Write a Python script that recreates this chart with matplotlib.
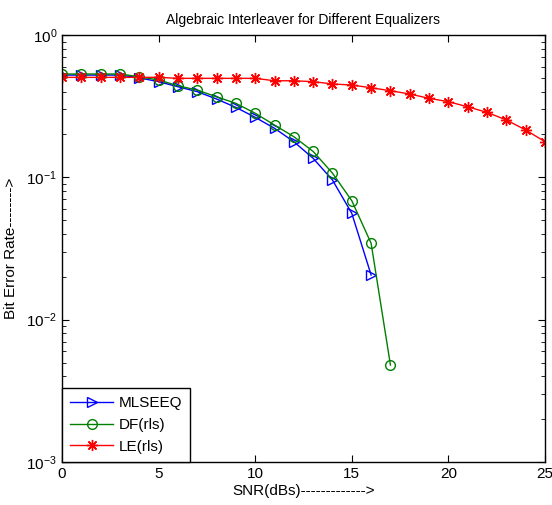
import matplotlib
matplotlib.use("Agg")
import matplotlib.pyplot as plt
import numpy as np
from matplotlib.ticker import LogLocator, NullFormatter

plt.rcParams['font.family'] = ['Liberation Sans', 'DejaVu Sans']
plt.rcParams['mathtext.fontset'] = 'custom'
plt.rcParams['mathtext.rm'] = 'Liberation Sans'
plt.rcParams['mathtext.it'] = 'Liberation Sans'

snr_mlse = [0, 1, 2, 3, 4, 5, 6, 7, 8, 9, 10, 11, 12, 13, 14, 15, 16]
ber_mlse = [0.523, 0.523, 0.523, 0.523, 0.50, 0.47, 0.433, 0.40, 0.355, 0.31,
            0.264, 0.221, 0.178, 0.136, 0.0957, 0.0558, 0.0206]

snr_df = [0, 1, 2, 3, 4, 5, 6, 7, 8, 9, 10, 11, 12, 13, 14, 15, 16, 17]
ber_df = [0.532, 0.532, 0.532, 0.532, 0.509, 0.483, 0.44, 0.41, 0.368, 0.331,
          0.282, 0.233, 0.193, 0.152, 0.107, 0.0685, 0.0344, 0.0048]

snr_le = list(range(26))
ber_le = [0.504, 0.504, 0.504, 0.504, 0.504, 0.504, 0.496, 0.496, 0.496, 0.496,
          0.496, 0.477, 0.477, 0.470, 0.453, 0.445, 0.426, 0.406, 0.385, 0.359,
          0.340, 0.313, 0.286, 0.253, 0.215, 0.178]

labels = ['MLSEEQ', 'DF(rls)', 'LE(rls)']
colors = ['#0000ff', '#008000', '#ff0000']

fig = plt.figure(figsize=(5.52, 5.05), dpi=100)
ax = fig.add_axes([62 / 552, 1 - 462 / 505, (545 - 62) / 552, (462 - 35) / 505])

ax.semilogy(snr_mlse, ber_mlse, color=colors[0], marker='>', markersize=7,
            markerfacecolor='none', markeredgecolor=colors[0], lw=1, label=labels[0])
ax.semilogy(snr_df, ber_df, color=colors[1], marker='o', markersize=7,
            markerfacecolor='none', markeredgecolor=colors[1], lw=1, label=labels[1])
ax.semilogy(snr_le, ber_le, color=colors[2], marker=(8, 2, 0), markersize=8,
            markeredgewidth=1, markeredgecolor=colors[2], lw=1, label=labels[2])

ax.set_xlim(0, 25)
ax.set_ylim(1e-3, 1)
ax.set_xticks([0, 5, 10, 15, 20, 25])
ax.yaxis.set_major_locator(LogLocator(base=10, numticks=10))
ax.yaxis.set_minor_locator(LogLocator(base=10, subs=np.arange(2, 10), numticks=20))
ax.yaxis.set_minor_formatter(NullFormatter())
ax.tick_params(which='both', direction='in', top=True, right=True, labelsize=11)
ax.tick_params(which='major', length=5)
ax.tick_params(which='minor', length=3)
for s in ax.spines.values():
    s.set_linewidth(1.0)

ax.set_title('Algebraic Interleaver for Different Equalizers', fontsize=10,
             family=['Liberation Sans Narrow', 'Liberation Sans'], pad=8)
ax.set_xlabel('SNR(dBs)------------->', fontsize=11, labelpad=2)
ax.set_ylabel('Bit Error Rate-------->', fontsize=11, labelpad=6)

leg = ax.legend(loc='lower left', fontsize=11, fancybox=False, framealpha=1,
                edgecolor='black', borderaxespad=0.0, handlelength=2.8,
                handletextpad=0.35, borderpad=0.55, labelspacing=0.5)
leg.get_frame().set_linewidth(1.0)

fig.savefig('out.png', dpi=100)
